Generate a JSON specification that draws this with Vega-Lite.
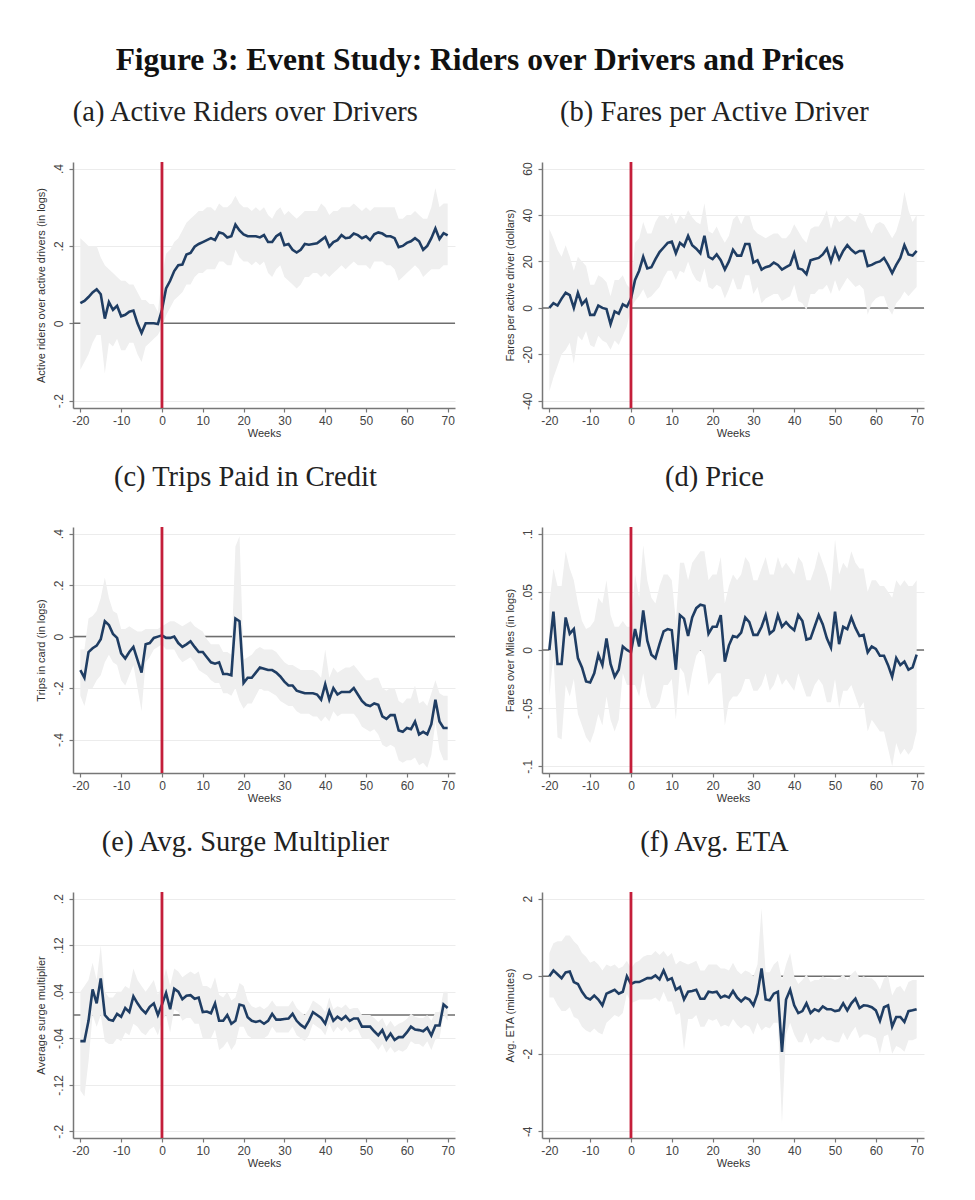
{
"$schema": "https://vega.github.io/schema/vega-lite/v6.json",
"padding": {"left": 34, "top": 44, "right": 5, "bottom": 5},
"background": "white",
"title": {"text": "Figure 3: Event Study: Riders over Drivers and Prices", "font": "Liberation Serif", "fontSize": 31.5, "fontWeight": "bold", "anchor": "middle", "color": "#111", "offset": 22},
"config": {
  "view": {"stroke": null},
  "title": {"font": "Liberation Serif", "fontSize": 28.5, "fontWeight": "normal", "color": "#222", "anchor": "middle", "offset": 34, "frame": "bounds"},
  "axis": {"labelFont": "Liberation Sans", "titleFont": "Liberation Sans", "labelFontSize": 12, "titleFontSize": 11, "titleFontWeight": "normal", "labelColor": "#444", "titleColor": "#333", "domainColor": "#777", "domainWidth": 1.5, "tickColor": "#777", "tickWidth": 1.2, "tickSize": 4, "labelPadding": 3},
  "axisX": {"grid": false, "titlePadding": 1},
  "axisY": {"grid": true, "gridColor": "#ececec", "gridWidth": 1, "labelAngle": 270, "titlePadding": 6, "labelPadding": 4}
},
"spacing": {"row": 25, "column": 48},
"columns": 2,
"datasets": {
"a": [
{"w":-20,"y":0.052,"lo":-0.12,"hi":0.22},{"w":-19,"y":0.058,"lo":-0.10,"hi":0.21},{"w":-18,"y":0.068,"lo":-0.08,"hi":0.20},{"w":-17,"y":0.080,"lo":-0.05,"hi":0.20},{"w":-16,"y":0.088,"lo":-0.03,"hi":0.20},{"w":-15,"y":0.075,"lo":-0.03,"hi":0.17},{"w":-14,"y":0.012,"lo":-0.13,"hi":0.15},{"w":-13,"y":0.055,"lo":-0.05,"hi":0.14},{"w":-12,"y":0.035,"lo":-0.06,"hi":0.13},{"w":-11,"y":0.045,"lo":-0.04,"hi":0.12},
{"w":-10,"y":0.018,"lo":-0.07,"hi":0.11},{"w":-9,"y":0.022,"lo":-0.07,"hi":0.11},{"w":-8,"y":0.030,"lo":-0.05,"hi":0.10},{"w":-7,"y":0.033,"lo":-0.05,"hi":0.10},{"w":-6,"y":0.000,"lo":-0.08,"hi":0.08},{"w":-5,"y":-0.025,"lo":-0.10,"hi":0.06},{"w":-4,"y":0.000,"lo":-0.06,"hi":0.06},{"w":-3,"y":0.000,"lo":-0.05,"hi":0.05},{"w":-2,"y":0.000,"lo":-0.04,"hi":0.05},{"w":-1,"y":-0.002,"lo":-0.03,"hi":0.03},
{"w":0,"y":0.035,"lo":-0.01,"hi":0.12},{"w":1,"y":0.090,"lo":0.02,"hi":0.18},{"w":2,"y":0.110,"lo":0.04,"hi":0.19},{"w":3,"y":0.135,"lo":0.06,"hi":0.21},{"w":4,"y":0.150,"lo":0.07,"hi":0.22},{"w":5,"y":0.152,"lo":0.08,"hi":0.24},{"w":6,"y":0.178,"lo":0.10,"hi":0.26},{"w":7,"y":0.182,"lo":0.10,"hi":0.27},{"w":8,"y":0.198,"lo":0.12,"hi":0.28},{"w":9,"y":0.205,"lo":0.13,"hi":0.29},
{"w":10,"y":0.210,"lo":0.13,"hi":0.29},{"w":11,"y":0.215,"lo":0.14,"hi":0.30},{"w":12,"y":0.220,"lo":0.14,"hi":0.30},{"w":13,"y":0.215,"lo":0.14,"hi":0.29},{"w":14,"y":0.235,"lo":0.16,"hi":0.31},{"w":15,"y":0.232,"lo":0.16,"hi":0.30},{"w":16,"y":0.222,"lo":0.15,"hi":0.30},{"w":17,"y":0.225,"lo":0.15,"hi":0.31},{"w":18,"y":0.255,"lo":0.19,"hi":0.33},{"w":19,"y":0.240,"lo":0.17,"hi":0.31},
{"w":20,"y":0.230,"lo":0.16,"hi":0.30},{"w":21,"y":0.225,"lo":0.16,"hi":0.30},{"w":22,"y":0.225,"lo":0.15,"hi":0.29},{"w":23,"y":0.225,"lo":0.16,"hi":0.30},{"w":24,"y":0.222,"lo":0.15,"hi":0.29},{"w":25,"y":0.228,"lo":0.16,"hi":0.30},{"w":26,"y":0.210,"lo":0.13,"hi":0.28},{"w":27,"y":0.210,"lo":0.12,"hi":0.27},{"w":28,"y":0.225,"lo":0.14,"hi":0.29},{"w":29,"y":0.232,"lo":0.15,"hi":0.30},
{"w":30,"y":0.202,"lo":0.12,"hi":0.28},{"w":31,"y":0.205,"lo":0.11,"hi":0.29},{"w":32,"y":0.190,"lo":0.10,"hi":0.28},{"w":33,"y":0.183,"lo":0.09,"hi":0.27},{"w":34,"y":0.190,"lo":0.10,"hi":0.28},{"w":35,"y":0.205,"lo":0.12,"hi":0.29},{"w":36,"y":0.203,"lo":0.12,"hi":0.29},{"w":37,"y":0.205,"lo":0.13,"hi":0.29},{"w":38,"y":0.207,"lo":0.13,"hi":0.29},{"w":39,"y":0.215,"lo":0.12,"hi":0.31},
{"w":40,"y":0.223,"lo":0.13,"hi":0.30},{"w":41,"y":0.198,"lo":0.12,"hi":0.28},{"w":42,"y":0.210,"lo":0.13,"hi":0.29},{"w":43,"y":0.215,"lo":0.14,"hi":0.29},{"w":44,"y":0.228,"lo":0.15,"hi":0.30},{"w":45,"y":0.220,"lo":0.14,"hi":0.30},{"w":46,"y":0.222,"lo":0.15,"hi":0.30},{"w":47,"y":0.232,"lo":0.16,"hi":0.31},{"w":48,"y":0.228,"lo":0.15,"hi":0.30},{"w":49,"y":0.220,"lo":0.15,"hi":0.29},
{"w":50,"y":0.225,"lo":0.15,"hi":0.30},{"w":51,"y":0.215,"lo":0.14,"hi":0.29},{"w":52,"y":0.230,"lo":0.16,"hi":0.30},{"w":53,"y":0.235,"lo":0.16,"hi":0.30},{"w":54,"y":0.232,"lo":0.16,"hi":0.30},{"w":55,"y":0.225,"lo":0.15,"hi":0.30},{"w":56,"y":0.225,"lo":0.15,"hi":0.30},{"w":57,"y":0.220,"lo":0.14,"hi":0.30},{"w":58,"y":0.197,"lo":0.11,"hi":0.27},{"w":59,"y":0.200,"lo":0.12,"hi":0.27},
{"w":60,"y":0.208,"lo":0.13,"hi":0.28},{"w":61,"y":0.212,"lo":0.14,"hi":0.28},{"w":62,"y":0.220,"lo":0.15,"hi":0.29},{"w":63,"y":0.212,"lo":0.14,"hi":0.28},{"w":64,"y":0.190,"lo":0.12,"hi":0.27},{"w":65,"y":0.200,"lo":0.13,"hi":0.27},{"w":66,"y":0.220,"lo":0.14,"hi":0.30},{"w":67,"y":0.245,"lo":0.14,"hi":0.35},{"w":68,"y":0.218,"lo":0.14,"hi":0.30},{"w":69,"y":0.233,"lo":0.15,"hi":0.31},{"w":70,"y":0.227,"lo":0.15,"hi":0.31}
],
"b": [
{"w":-20,"y":0,"lo":-36,"hi":34},{"w":-19,"y":2,"lo":-30,"hi":30},{"w":-18,"y":1,"lo":-25,"hi":25},{"w":-17,"y":4,"lo":-20,"hi":22},{"w":-16,"y":6.5,"lo":-18,"hi":27},{"w":-15,"y":5.5,"lo":-15,"hi":22},{"w":-14,"y":0,"lo":-24,"hi":16},{"w":-13,"y":6.5,"lo":-12,"hi":22},{"w":-12,"y":1.5,"lo":-14,"hi":20},{"w":-11,"y":3.5,"lo":-10,"hi":18},
{"w":-10,"y":-3,"lo":-16,"hi":10},{"w":-9,"y":-3,"lo":-17,"hi":10},{"w":-8,"y":1,"lo":-12,"hi":14},{"w":-7,"y":0,"lo":-14,"hi":13},{"w":-6,"y":-0.5,"lo":-15,"hi":11},{"w":-5,"y":-7,"lo":-18,"hi":5},{"w":-4,"y":-1.5,"lo":-14,"hi":12},{"w":-3,"y":-2.5,"lo":-16,"hi":12},{"w":-2,"y":1.5,"lo":-12,"hi":14},{"w":-1,"y":0.5,"lo":-8,"hi":10},
{"w":0,"y":4,"lo":0,"hi":8},{"w":1,"y":12,"lo":3,"hi":28},{"w":2,"y":16,"lo":5,"hi":30},{"w":3,"y":22,"lo":8,"hi":37},{"w":4,"y":17,"lo":4,"hi":32},{"w":5,"y":17.5,"lo":5,"hi":32},{"w":6,"y":21,"lo":7,"hi":37},{"w":7,"y":24,"lo":9,"hi":40},{"w":8,"y":26,"lo":13,"hi":40},{"w":9,"y":28,"lo":16,"hi":38},
{"w":10,"y":28.5,"lo":16,"hi":41},{"w":11,"y":23.5,"lo":12,"hi":36},{"w":12,"y":28,"lo":16,"hi":40},{"w":13,"y":26.5,"lo":15,"hi":38},{"w":14,"y":31,"lo":20,"hi":42},{"w":15,"y":27,"lo":15,"hi":39},{"w":16,"y":25.5,"lo":12,"hi":37},{"w":17,"y":23.5,"lo":11,"hi":36},{"w":18,"y":31,"lo":17,"hi":45},{"w":19,"y":22,"lo":9,"hi":33},
{"w":20,"y":21,"lo":8,"hi":32},{"w":21,"y":23,"lo":10,"hi":35},{"w":22,"y":20.5,"lo":9,"hi":31},{"w":23,"y":16.5,"lo":4,"hi":28},{"w":24,"y":20,"lo":8,"hi":31},{"w":25,"y":25,"lo":13,"hi":38},{"w":26,"y":22.5,"lo":8,"hi":40},{"w":27,"y":22.5,"lo":8,"hi":36},{"w":28,"y":27.5,"lo":14,"hi":40},{"w":29,"y":27.5,"lo":14,"hi":40},
{"w":30,"y":19.5,"lo":6,"hi":34},{"w":31,"y":20.5,"lo":9,"hi":32},{"w":32,"y":16.5,"lo":2,"hi":31},{"w":33,"y":17.5,"lo":4,"hi":30},{"w":34,"y":18,"lo":5,"hi":31},{"w":35,"y":19.5,"lo":6,"hi":32},{"w":36,"y":18.5,"lo":6,"hi":32},{"w":37,"y":16.5,"lo":3,"hi":30},{"w":38,"y":17.5,"lo":4,"hi":30},{"w":39,"y":18.5,"lo":5,"hi":32},
{"w":40,"y":23.5,"lo":10,"hi":36},{"w":41,"y":17,"lo":3,"hi":33},{"w":42,"y":16.5,"lo":2,"hi":30},{"w":43,"y":14.5,"lo":-1,"hi":28},{"w":44,"y":20.5,"lo":6,"hi":34},{"w":45,"y":21,"lo":6,"hi":35},{"w":46,"y":21.5,"lo":8,"hi":35},{"w":47,"y":23,"lo":8,"hi":38},{"w":48,"y":25.5,"lo":10,"hi":42},{"w":49,"y":20,"lo":6,"hi":34},
{"w":50,"y":25.5,"lo":12,"hi":40},{"w":51,"y":21,"lo":7,"hi":37},{"w":52,"y":24.5,"lo":10,"hi":38},{"w":53,"y":27,"lo":13,"hi":40},{"w":54,"y":25,"lo":11,"hi":38},{"w":55,"y":23.5,"lo":9,"hi":37},{"w":56,"y":24.5,"lo":10,"hi":41},{"w":57,"y":24.5,"lo":8,"hi":40},{"w":58,"y":18,"lo":-3,"hi":35},{"w":59,"y":18.5,"lo":2,"hi":32},
{"w":60,"y":19.5,"lo":4,"hi":36},{"w":61,"y":20,"lo":5,"hi":37},{"w":62,"y":21.5,"lo":5,"hi":36},{"w":63,"y":18.5,"lo":0,"hi":33},{"w":64,"y":15,"lo":-3,"hi":30},{"w":65,"y":18.5,"lo":2,"hi":33},{"w":66,"y":21.5,"lo":4,"hi":39},{"w":67,"y":27,"lo":7,"hi":50},{"w":68,"y":23,"lo":5,"hi":42},{"w":69,"y":22.5,"lo":7,"hi":37},{"w":70,"y":24.5,"lo":9,"hi":40}
],
"c": [
{"w":-20,"y":-0.13,"lo":-0.23,"hi":-0.05},{"w":-19,"y":-0.16,"lo":-0.27,"hi":-0.05},{"w":-18,"y":-0.06,"lo":-0.20,"hi":0.07},{"w":-17,"y":-0.045,"lo":-0.20,"hi":0.08},{"w":-16,"y":-0.035,"lo":-0.17,"hi":0.10},{"w":-15,"y":-0.01,"lo":-0.15,"hi":0.15},{"w":-14,"y":0.06,"lo":-0.10,"hi":0.23},{"w":-13,"y":0.045,"lo":-0.07,"hi":0.15},{"w":-12,"y":0.01,"lo":-0.10,"hi":0.10},{"w":-11,"y":-0.005,"lo":-0.11,"hi":0.09},
{"w":-10,"y":-0.065,"lo":-0.17,"hi":0.03},{"w":-9,"y":-0.085,"lo":-0.19,"hi":0.03},{"w":-8,"y":-0.06,"lo":-0.15,"hi":0.04},{"w":-7,"y":-0.04,"lo":-0.11,"hi":0.03},{"w":-6,"y":-0.09,"lo":-0.20,"hi":0.02},{"w":-5,"y":-0.14,"lo":-0.29,"hi":0.02},{"w":-4,"y":-0.03,"lo":-0.10,"hi":0.03},{"w":-3,"y":-0.025,"lo":-0.08,"hi":0.03},{"w":-2,"y":-0.005,"lo":-0.05,"hi":0.03},{"w":-1,"y":0.0,"lo":-0.04,"hi":0.03},
{"w":0,"y":0.005,"lo":-0.03,"hi":0.04},{"w":1,"y":-0.005,"lo":-0.05,"hi":0.05},{"w":2,"y":-0.005,"lo":-0.05,"hi":0.06},{"w":3,"y":0.0,"lo":-0.05,"hi":0.06},{"w":4,"y":-0.025,"lo":-0.08,"hi":0.05},{"w":5,"y":-0.04,"lo":-0.10,"hi":0.04},{"w":6,"y":-0.03,"lo":-0.09,"hi":0.05},{"w":7,"y":-0.018,"lo":-0.08,"hi":0.06},{"w":8,"y":-0.04,"lo":-0.10,"hi":0.04},{"w":9,"y":-0.06,"lo":-0.13,"hi":0.03},
{"w":10,"y":-0.06,"lo":-0.14,"hi":0.02},{"w":11,"y":-0.08,"lo":-0.15,"hi":-0.01},{"w":12,"y":-0.10,"lo":-0.17,"hi":-0.03},{"w":13,"y":-0.105,"lo":-0.18,"hi":-0.03},{"w":14,"y":-0.10,"lo":-0.18,"hi":-0.03},{"w":15,"y":-0.145,"lo":-0.22,"hi":-0.06},{"w":16,"y":-0.145,"lo":-0.22,"hi":-0.06},{"w":17,"y":-0.15,"lo":-0.23,"hi":-0.07},{"w":18,"y":0.07,"lo":-0.20,"hi":0.35},{"w":19,"y":0.06,"lo":-0.25,"hi":0.39},
{"w":20,"y":-0.18,"lo":-0.28,"hi":-0.09},{"w":21,"y":-0.16,"lo":-0.26,"hi":-0.08},{"w":22,"y":-0.16,"lo":-0.26,"hi":-0.07},{"w":23,"y":-0.14,"lo":-0.23,"hi":-0.05},{"w":24,"y":-0.12,"lo":-0.20,"hi":-0.04},{"w":25,"y":-0.125,"lo":-0.21,"hi":-0.05},{"w":26,"y":-0.13,"lo":-0.21,"hi":-0.05},{"w":27,"y":-0.13,"lo":-0.22,"hi":-0.05},{"w":28,"y":-0.14,"lo":-0.23,"hi":-0.06},{"w":29,"y":-0.155,"lo":-0.25,"hi":-0.08},
{"w":30,"y":-0.175,"lo":-0.26,"hi":-0.10},{"w":31,"y":-0.19,"lo":-0.27,"hi":-0.11},{"w":32,"y":-0.19,"lo":-0.27,"hi":-0.11},{"w":33,"y":-0.21,"lo":-0.29,"hi":-0.12},{"w":34,"y":-0.215,"lo":-0.30,"hi":-0.13},{"w":35,"y":-0.22,"lo":-0.30,"hi":-0.13},{"w":36,"y":-0.22,"lo":-0.30,"hi":-0.13},{"w":37,"y":-0.22,"lo":-0.31,"hi":-0.13},{"w":38,"y":-0.225,"lo":-0.31,"hi":-0.14},{"w":39,"y":-0.245,"lo":-0.33,"hi":-0.16},
{"w":40,"y":-0.185,"lo":-0.31,"hi":-0.05},{"w":41,"y":-0.245,"lo":-0.33,"hi":-0.16},{"w":42,"y":-0.20,"lo":-0.29,"hi":-0.12},{"w":43,"y":-0.225,"lo":-0.31,"hi":-0.14},{"w":44,"y":-0.215,"lo":-0.30,"hi":-0.13},{"w":45,"y":-0.215,"lo":-0.30,"hi":-0.12},{"w":46,"y":-0.215,"lo":-0.30,"hi":-0.12},{"w":47,"y":-0.20,"lo":-0.30,"hi":-0.11},{"w":48,"y":-0.225,"lo":-0.32,"hi":-0.13},{"w":49,"y":-0.25,"lo":-0.35,"hi":-0.15},
{"w":50,"y":-0.265,"lo":-0.36,"hi":-0.17},{"w":51,"y":-0.27,"lo":-0.37,"hi":-0.17},{"w":52,"y":-0.26,"lo":-0.36,"hi":-0.16},{"w":53,"y":-0.265,"lo":-0.38,"hi":-0.16},{"w":54,"y":-0.31,"lo":-0.42,"hi":-0.20},{"w":55,"y":-0.32,"lo":-0.43,"hi":-0.21},{"w":56,"y":-0.305,"lo":-0.42,"hi":-0.20},{"w":57,"y":-0.305,"lo":-0.43,"hi":-0.20},{"w":58,"y":-0.365,"lo":-0.48,"hi":-0.25},{"w":59,"y":-0.37,"lo":-0.49,"hi":-0.26},
{"w":60,"y":-0.355,"lo":-0.48,"hi":-0.24},{"w":61,"y":-0.36,"lo":-0.48,"hi":-0.24},{"w":62,"y":-0.33,"lo":-0.47,"hi":-0.19},{"w":63,"y":-0.38,"lo":-0.50,"hi":-0.26},{"w":64,"y":-0.37,"lo":-0.49,"hi":-0.25},{"w":65,"y":-0.38,"lo":-0.51,"hi":-0.27},{"w":66,"y":-0.34,"lo":-0.46,"hi":-0.22},{"w":67,"y":-0.245,"lo":-0.33,"hi":-0.17},{"w":68,"y":-0.33,"lo":-0.44,"hi":-0.22},{"w":69,"y":-0.355,"lo":-0.48,"hi":-0.23},{"w":70,"y":-0.355,"lo":-0.48,"hi":-0.23}
],
"d": [
{"w":-20,"y":0.0,"lo":-0.04,"hi":0.04},{"w":-19,"y":0.033,"lo":-0.005,"hi":0.07},{"w":-18,"y":-0.012,"lo":-0.075,"hi":0.055},{"w":-17,"y":-0.012,"lo":-0.077,"hi":0.055},{"w":-16,"y":0.028,"lo":-0.03,"hi":0.085},{"w":-15,"y":0.014,"lo":-0.04,"hi":0.07},{"w":-14,"y":0.018,"lo":-0.025,"hi":0.06},{"w":-13,"y":-0.007,"lo":-0.055,"hi":0.04},{"w":-12,"y":-0.015,"lo":-0.065,"hi":0.025},{"w":-11,"y":-0.027,"lo":-0.075,"hi":0.018},
{"w":-10,"y":-0.028,"lo":-0.08,"hi":0.02},{"w":-9,"y":-0.02,"lo":-0.07,"hi":0.025},{"w":-8,"y":-0.004,"lo":-0.055,"hi":0.045},{"w":-7,"y":-0.013,"lo":-0.065,"hi":0.04},{"w":-6,"y":0.01,"lo":-0.04,"hi":0.06},{"w":-5,"y":-0.012,"lo":-0.06,"hi":0.03},{"w":-4,"y":-0.023,"lo":-0.07,"hi":0.02},{"w":-3,"y":-0.017,"lo":-0.06,"hi":0.02},{"w":-2,"y":0.003,"lo":-0.02,"hi":0.025},{"w":-1,"y":0.0,"lo":-0.03,"hi":0.02},
{"w":0,"y":-0.002,"lo":-0.03,"hi":0.02},{"w":1,"y":0.018,"lo":-0.03,"hi":0.065},{"w":2,"y":0.003,"lo":-0.04,"hi":0.045},{"w":3,"y":0.034,"lo":-0.02,"hi":0.09},{"w":4,"y":0.008,"lo":-0.04,"hi":0.06},{"w":5,"y":-0.004,"lo":-0.05,"hi":0.045},{"w":6,"y":-0.007,"lo":-0.05,"hi":0.04},{"w":7,"y":0.005,"lo":-0.045,"hi":0.055},{"w":8,"y":0.016,"lo":-0.03,"hi":0.065},{"w":9,"y":0.018,"lo":-0.03,"hi":0.065},
{"w":10,"y":0.017,"lo":-0.025,"hi":0.06},{"w":11,"y":-0.017,"lo":-0.06,"hi":0.025},{"w":12,"y":0.03,"lo":-0.015,"hi":0.075},{"w":13,"y":0.027,"lo":-0.02,"hi":0.075},{"w":14,"y":0.012,"lo":-0.04,"hi":0.06},{"w":15,"y":0.028,"lo":-0.02,"hi":0.075},{"w":16,"y":0.036,"lo":-0.005,"hi":0.08},{"w":17,"y":0.039,"lo":0.0,"hi":0.085},{"w":18,"y":0.038,"lo":-0.005,"hi":0.085},{"w":19,"y":0.014,"lo":-0.03,"hi":0.06},
{"w":20,"y":0.02,"lo":-0.025,"hi":0.065},{"w":21,"y":0.02,"lo":-0.02,"hi":0.065},{"w":22,"y":0.03,"lo":-0.02,"hi":0.08},{"w":23,"y":-0.01,"lo":-0.065,"hi":0.04},{"w":24,"y":0.004,"lo":-0.045,"hi":0.055},{"w":25,"y":0.012,"lo":-0.04,"hi":0.065},{"w":26,"y":0.011,"lo":-0.04,"hi":0.06},{"w":27,"y":0.015,"lo":-0.035,"hi":0.065},{"w":28,"y":0.028,"lo":-0.025,"hi":0.08},{"w":29,"y":0.024,"lo":-0.025,"hi":0.075},
{"w":30,"y":0.013,"lo":-0.035,"hi":0.06},{"w":31,"y":0.013,"lo":-0.035,"hi":0.06},{"w":32,"y":0.02,"lo":-0.03,"hi":0.07},{"w":33,"y":0.03,"lo":-0.02,"hi":0.08},{"w":34,"y":0.014,"lo":-0.035,"hi":0.065},{"w":35,"y":0.017,"lo":-0.03,"hi":0.065},{"w":36,"y":0.03,"lo":-0.02,"hi":0.08},{"w":37,"y":0.02,"lo":-0.03,"hi":0.07},{"w":38,"y":0.024,"lo":-0.025,"hi":0.075},{"w":39,"y":0.02,"lo":-0.03,"hi":0.07},
{"w":40,"y":0.017,"lo":-0.035,"hi":0.065},{"w":41,"y":0.03,"lo":-0.02,"hi":0.08},{"w":42,"y":0.025,"lo":-0.03,"hi":0.075},{"w":43,"y":0.009,"lo":-0.04,"hi":0.06},{"w":44,"y":0.01,"lo":-0.04,"hi":0.06},{"w":45,"y":0.02,"lo":-0.03,"hi":0.07},{"w":46,"y":0.03,"lo":-0.025,"hi":0.085},{"w":47,"y":0.022,"lo":-0.03,"hi":0.075},{"w":48,"y":0.01,"lo":-0.045,"hi":0.065},{"w":49,"y":0.002,"lo":-0.045,"hi":0.05},
{"w":50,"y":0.033,"lo":-0.025,"hi":0.095},{"w":51,"y":0.005,"lo":-0.05,"hi":0.065},{"w":52,"y":0.02,"lo":-0.035,"hi":0.075},{"w":53,"y":0.018,"lo":-0.035,"hi":0.07},{"w":54,"y":0.028,"lo":-0.03,"hi":0.085},{"w":55,"y":0.019,"lo":-0.04,"hi":0.075},{"w":56,"y":0.012,"lo":-0.05,"hi":0.07},{"w":57,"y":0.013,"lo":-0.045,"hi":0.07},{"w":58,"y":-0.002,"lo":-0.07,"hi":0.05},{"w":59,"y":0.003,"lo":-0.06,"hi":0.06},
{"w":60,"y":0.001,"lo":-0.065,"hi":0.06},{"w":61,"y":-0.005,"lo":-0.07,"hi":0.055},{"w":62,"y":-0.005,"lo":-0.07,"hi":0.055},{"w":63,"y":-0.013,"lo":-0.085,"hi":0.05},{"w":64,"y":-0.023,"lo":-0.1,"hi":0.045},{"w":65,"y":-0.007,"lo":-0.08,"hi":0.06},{"w":66,"y":-0.013,"lo":-0.09,"hi":0.055},{"w":67,"y":-0.01,"lo":-0.085,"hi":0.06},{"w":68,"y":-0.017,"lo":-0.09,"hi":0.055},{"w":69,"y":-0.015,"lo":-0.085,"hi":0.055},{"w":70,"y":-0.004,"lo":-0.07,"hi":0.06}
],
"e": [
{"w":-20,"y":-0.045,"lo":-0.13,"hi":0.04},{"w":-19,"y":-0.045,"lo":-0.14,"hi":0.05},{"w":-18,"y":-0.01,"lo":-0.08,"hi":0.06},{"w":-17,"y":0.044,"lo":0.0,"hi":0.09},{"w":-16,"y":0.02,"lo":-0.02,"hi":0.06},{"w":-15,"y":0.063,"lo":0.0,"hi":0.12},{"w":-14,"y":0.0,"lo":-0.045,"hi":0.04},{"w":-13,"y":-0.008,"lo":-0.05,"hi":0.03},{"w":-12,"y":-0.01,"lo":-0.05,"hi":0.03},{"w":-11,"y":0.002,"lo":-0.04,"hi":0.04},
{"w":-10,"y":-0.003,"lo":-0.045,"hi":0.04},{"w":-9,"y":0.012,"lo":-0.03,"hi":0.05},{"w":-8,"y":0.005,"lo":-0.035,"hi":0.045},{"w":-7,"y":0.032,"lo":-0.015,"hi":0.08},{"w":-6,"y":0.02,"lo":-0.02,"hi":0.06},{"w":-5,"y":0.01,"lo":-0.03,"hi":0.05},{"w":-4,"y":0.003,"lo":-0.035,"hi":0.04},{"w":-3,"y":0.014,"lo":-0.025,"hi":0.05},{"w":-2,"y":0.02,"lo":-0.02,"hi":0.06},{"w":-1,"y":0.0,"lo":-0.035,"hi":0.035},
{"w":0,"y":0.018,"lo":-0.01,"hi":0.05},{"w":1,"y":0.038,"lo":0.0,"hi":0.08},{"w":2,"y":0.01,"lo":-0.03,"hi":0.05},{"w":3,"y":0.045,"lo":0.01,"hi":0.08},{"w":4,"y":0.04,"lo":0.005,"hi":0.075},{"w":5,"y":0.027,"lo":-0.01,"hi":0.065},{"w":6,"y":0.033,"lo":-0.005,"hi":0.07},{"w":7,"y":0.034,"lo":-0.005,"hi":0.075},{"w":8,"y":0.028,"lo":-0.015,"hi":0.07},{"w":9,"y":0.03,"lo":-0.015,"hi":0.075},
{"w":10,"y":0.005,"lo":-0.04,"hi":0.05},{"w":11,"y":0.006,"lo":-0.04,"hi":0.05},{"w":12,"y":0.003,"lo":-0.04,"hi":0.045},{"w":13,"y":0.02,"lo":-0.025,"hi":0.065},{"w":14,"y":-0.01,"lo":-0.06,"hi":0.035},{"w":15,"y":-0.01,"lo":-0.055,"hi":0.03},{"w":16,"y":0.0,"lo":-0.045,"hi":0.04},{"w":17,"y":-0.015,"lo":-0.06,"hi":0.025},{"w":18,"y":-0.01,"lo":-0.05,"hi":0.03},{"w":19,"y":0.018,"lo":-0.02,"hi":0.055},
{"w":20,"y":0.016,"lo":-0.02,"hi":0.05},{"w":21,"y":-0.004,"lo":-0.035,"hi":0.025},{"w":22,"y":-0.01,"lo":-0.04,"hi":0.015},{"w":23,"y":-0.012,"lo":-0.04,"hi":0.012},{"w":24,"y":-0.01,"lo":-0.04,"hi":0.015},{"w":25,"y":-0.015,"lo":-0.04,"hi":0.01},{"w":26,"y":-0.01,"lo":-0.035,"hi":0.015},{"w":27,"y":0.002,"lo":-0.02,"hi":0.025},{"w":28,"y":-0.008,"lo":-0.03,"hi":0.015},{"w":29,"y":-0.008,"lo":-0.03,"hi":0.015},
{"w":30,"y":-0.007,"lo":-0.03,"hi":0.015},{"w":31,"y":-0.006,"lo":-0.03,"hi":0.015},{"w":32,"y":0.002,"lo":-0.02,"hi":0.025},{"w":33,"y":-0.01,"lo":-0.035,"hi":0.012},{"w":34,"y":-0.017,"lo":-0.04,"hi":0.005},{"w":35,"y":-0.022,"lo":-0.045,"hi":0.0},{"w":36,"y":-0.01,"lo":-0.035,"hi":0.01},{"w":37,"y":0.005,"lo":-0.015,"hi":0.025},{"w":38,"y":0.0,"lo":-0.02,"hi":0.02},{"w":39,"y":-0.005,"lo":-0.025,"hi":0.015},
{"w":40,"y":-0.015,"lo":-0.035,"hi":0.005},{"w":41,"y":0.007,"lo":-0.015,"hi":0.03},{"w":42,"y":-0.01,"lo":-0.03,"hi":0.01},{"w":43,"y":-0.003,"lo":-0.02,"hi":0.015},{"w":44,"y":-0.008,"lo":-0.028,"hi":0.012},{"w":45,"y":-0.002,"lo":-0.02,"hi":0.018},{"w":46,"y":-0.01,"lo":-0.03,"hi":0.01},{"w":47,"y":-0.006,"lo":-0.025,"hi":0.012},{"w":48,"y":-0.006,"lo":-0.025,"hi":0.012},{"w":49,"y":-0.02,"lo":-0.04,"hi":0.0},
{"w":50,"y":-0.02,"lo":-0.04,"hi":0.0},{"w":51,"y":-0.02,"lo":-0.042,"hi":0.0},{"w":52,"y":-0.028,"lo":-0.05,"hi":-0.005},{"w":53,"y":-0.035,"lo":-0.06,"hi":-0.012},{"w":54,"y":-0.026,"lo":-0.05,"hi":-0.005},{"w":55,"y":-0.042,"lo":-0.065,"hi":-0.02},{"w":56,"y":-0.032,"lo":-0.055,"hi":-0.01},{"w":57,"y":-0.043,"lo":-0.065,"hi":-0.02},{"w":58,"y":-0.038,"lo":-0.06,"hi":-0.015},{"w":59,"y":-0.038,"lo":-0.063,"hi":-0.012},
{"w":60,"y":-0.03,"lo":-0.058,"hi":-0.007},{"w":61,"y":-0.02,"lo":-0.045,"hi":0.002},{"w":62,"y":-0.025,"lo":-0.05,"hi":-0.003},{"w":63,"y":-0.026,"lo":-0.05,"hi":-0.005},{"w":64,"y":-0.028,"lo":-0.055,"hi":-0.005},{"w":65,"y":-0.022,"lo":-0.045,"hi":0.0},{"w":66,"y":-0.035,"lo":-0.06,"hi":-0.01},{"w":67,"y":-0.018,"lo":-0.042,"hi":0.005},{"w":68,"y":-0.018,"lo":-0.04,"hi":0.005},{"w":69,"y":0.018,"lo":0.0,"hi":0.04},{"w":70,"y":0.012,"lo":-0.01,"hi":0.04}
],
"f": [
{"w":-20,"y":0.0,"lo":-0.55,"hi":0.6},{"w":-19,"y":0.15,"lo":-0.55,"hi":0.85},{"w":-18,"y":0.05,"lo":-0.75,"hi":0.9},{"w":-17,"y":-0.05,"lo":-0.9,"hi":0.9},{"w":-16,"y":0.1,"lo":-0.9,"hi":1.05},{"w":-15,"y":0.12,"lo":-0.8,"hi":1.05},{"w":-14,"y":-0.15,"lo":-1.05,"hi":0.9},{"w":-13,"y":-0.2,"lo":-1.1,"hi":0.8},{"w":-12,"y":-0.4,"lo":-1.3,"hi":0.6},{"w":-11,"y":-0.55,"lo":-1.4,"hi":0.5},
{"w":-10,"y":-0.6,"lo":-1.45,"hi":0.35},{"w":-9,"y":-0.5,"lo":-1.35,"hi":0.4},{"w":-8,"y":-0.6,"lo":-1.45,"hi":0.3},{"w":-7,"y":-0.75,"lo":-1.5,"hi":0.15},{"w":-6,"y":-0.45,"lo":-1.2,"hi":0.3},{"w":-5,"y":-0.4,"lo":-1.1,"hi":0.25},{"w":-4,"y":-0.35,"lo":-1.0,"hi":0.3},{"w":-3,"y":-0.45,"lo":-1.05,"hi":0.2},{"w":-2,"y":-0.4,"lo":-0.95,"hi":0.25},{"w":-1,"y":0.0,"lo":-0.45,"hi":0.4},
{"w":0,"y":-0.2,"lo":-0.7,"hi":0.2},{"w":1,"y":-0.15,"lo":-0.65,"hi":0.35},{"w":2,"y":-0.15,"lo":-0.6,"hi":0.4},{"w":3,"y":-0.1,"lo":-0.6,"hi":0.5},{"w":4,"y":-0.05,"lo":-0.6,"hi":0.55},{"w":5,"y":-0.05,"lo":-0.6,"hi":0.55},{"w":6,"y":0.02,"lo":-0.55,"hi":0.65},{"w":7,"y":-0.08,"lo":-0.65,"hi":0.55},{"w":8,"y":0.15,"lo":-0.4,"hi":0.65},{"w":9,"y":-0.1,"lo":-0.65,"hi":0.5},
{"w":10,"y":-0.05,"lo":-0.65,"hi":0.6},{"w":11,"y":-0.35,"lo":-1.0,"hi":0.3},{"w":12,"y":-0.28,"lo":-0.95,"hi":0.4},{"w":13,"y":-0.6,"lo":-1.9,"hi":0.35},{"w":14,"y":-0.4,"lo":-1.1,"hi":0.3},{"w":15,"y":-0.38,"lo":-1.1,"hi":0.35},{"w":16,"y":-0.35,"lo":-1.0,"hi":0.4},{"w":17,"y":-0.58,"lo":-1.3,"hi":0.15},{"w":18,"y":-0.58,"lo":-1.3,"hi":0.15},{"w":19,"y":-0.4,"lo":-1.1,"hi":0.3},
{"w":20,"y":-0.42,"lo":-1.15,"hi":0.3},{"w":21,"y":-0.4,"lo":-1.1,"hi":0.3},{"w":22,"y":-0.55,"lo":-1.3,"hi":0.2},{"w":23,"y":-0.5,"lo":-1.25,"hi":0.2},{"w":24,"y":-0.55,"lo":-1.3,"hi":0.15},{"w":25,"y":-0.38,"lo":-1.1,"hi":0.35},{"w":26,"y":-0.55,"lo":-1.25,"hi":0.15},{"w":27,"y":-0.65,"lo":-1.35,"hi":0.05},{"w":28,"y":-0.55,"lo":-1.25,"hi":0.15},{"w":29,"y":-0.6,"lo":-1.3,"hi":0.1},
{"w":30,"y":-0.75,"lo":-1.5,"hi":0.0},{"w":31,"y":-0.45,"lo":-1.2,"hi":0.3},{"w":32,"y":0.2,"lo":-1.4,"hi":1.75},{"w":33,"y":-0.6,"lo":-1.3,"hi":0.1},{"w":34,"y":-0.62,"lo":-1.35,"hi":0.1},{"w":35,"y":-0.45,"lo":-1.2,"hi":0.3},{"w":36,"y":-0.4,"lo":-1.2,"hi":0.4},{"w":37,"y":-1.95,"lo":-3.8,"hi":-0.1},{"w":38,"y":-0.6,"lo":-1.5,"hi":0.3},{"w":39,"y":-0.35,"lo":-1.2,"hi":0.6},
{"w":40,"y":-0.75,"lo":-1.5,"hi":0.0},{"w":41,"y":-0.95,"lo":-1.7,"hi":-0.2},{"w":42,"y":-0.9,"lo":-1.7,"hi":-0.1},{"w":43,"y":-0.7,"lo":-1.45,"hi":0.05},{"w":44,"y":-0.95,"lo":-1.75,"hi":-0.15},{"w":45,"y":-0.85,"lo":-1.6,"hi":-0.1},{"w":46,"y":-0.9,"lo":-1.65,"hi":-0.1},{"w":47,"y":-0.78,"lo":-1.55,"hi":0.0},{"w":48,"y":-0.85,"lo":-1.65,"hi":-0.05},{"w":49,"y":-0.85,"lo":-1.65,"hi":-0.05},
{"w":50,"y":-0.9,"lo":-1.7,"hi":-0.1},{"w":51,"y":-0.88,"lo":-1.7,"hi":-0.05},{"w":52,"y":-0.7,"lo":-1.45,"hi":0.05},{"w":53,"y":-0.88,"lo":-1.65,"hi":-0.1},{"w":54,"y":-0.7,"lo":-1.45,"hi":0.05},{"w":55,"y":-0.58,"lo":-1.3,"hi":0.15},{"w":56,"y":-0.82,"lo":-1.6,"hi":-0.05},{"w":57,"y":-0.75,"lo":-1.5,"hi":0.0},{"w":58,"y":-0.76,"lo":-1.5,"hi":-0.05},{"w":59,"y":-0.8,"lo":-1.55,"hi":-0.05},
{"w":60,"y":-0.88,"lo":-1.6,"hi":-0.15},{"w":61,"y":-1.15,"lo":-2.0,"hi":-0.35},{"w":62,"y":-0.8,"lo":-1.55,"hi":-0.05},{"w":63,"y":-0.75,"lo":-1.5,"hi":0.0},{"w":64,"y":-1.3,"lo":-2.0,"hi":-0.5},{"w":65,"y":-1.05,"lo":-1.8,"hi":-0.3},{"w":66,"y":-1.05,"lo":-1.85,"hi":-0.25},{"w":67,"y":-1.18,"lo":-1.95,"hi":-0.4},{"w":68,"y":-0.9,"lo":-1.65,"hi":-0.15},{"w":69,"y":-0.88,"lo":-1.65,"hi":-0.1},{"w":70,"y":-0.85,"lo":-1.6,"hi":-0.1}
]
},
"concat": [
{"title": "(a) Active Riders over Drivers", "width": 382, "height": 246, "data": {"name": "a"},
 "layer": [
  {"data": {"values": [{}]}, "mark": {"type": "rule", "color": "#6e6e6e", "strokeWidth": 1.5}, "encoding": {"y": {"datum": 0, "type": "quantitative", "scale": {"domain": [-0.219, 0.417], "nice": false, "zero": false}}}},
  {"mark": {"type": "area", "color": "#efefef"}, "encoding": {
    "x": {"field": "w", "type": "quantitative", "scale": {"domain": [-21.8, 71.8], "nice": false, "zero": false}, "axis": {"values": [-20,-10,0,10,20,30,40,50,60,70], "labelExpr": "replace(format(datum.value, 'd'), '\u2212', '-')", "title": "Weeks"}},
    "y": {"field": "lo", "type": "quantitative", "scale": {"domain": [-0.219, 0.417], "nice": false, "zero": false}, "axis": {"values": [-0.2,0,0.2,0.4], "labelExpr": "replace(replace(format(datum.value, '~g'), '0.', '.'), '\u2212', '-')", "title": "Active riders over active drivers (in logs)"}},
    "y2": {"field": "hi"}}},
  {"mark": {"type": "line", "color": "#1f3d63", "strokeWidth": 2.6}, "encoding": {"x": {"field": "w", "type": "quantitative"}, "y": {"field": "y", "type": "quantitative"}}},
  {"data": {"values": [{}]}, "mark": {"type": "rule", "color": "#c41e3a", "strokeWidth": 2.8}, "encoding": {"x": {"datum": 0, "type": "quantitative"}}}
 ]},
{"title": "(b) Fares per Active Driver", "width": 382, "height": 246, "data": {"name": "b"},
 "layer": [
  {"data": {"values": [{}]}, "mark": {"type": "rule", "color": "#6e6e6e", "strokeWidth": 1.5}, "encoding": {"y": {"datum": 0, "type": "quantitative", "scale": {"domain": [-43.1, 62.8], "nice": false, "zero": false}}}},
  {"mark": {"type": "area", "color": "#efefef"}, "encoding": {
    "x": {"field": "w", "type": "quantitative", "scale": {"domain": [-21.8, 71.8], "nice": false, "zero": false}, "axis": {"values": [-20,-10,0,10,20,30,40,50,60,70], "labelExpr": "replace(format(datum.value, 'd'), '\u2212', '-')", "title": "Weeks"}},
    "y": {"field": "lo", "type": "quantitative", "scale": {"domain": [-43.1, 62.8], "nice": false, "zero": false}, "axis": {"values": [-40,-20,0,20,40,60], "labelExpr": "replace(format(datum.value, 'd'), '\u2212', '-')", "title": "Fares per active driver (dollars)"}},
    "y2": {"field": "hi"}}},
  {"mark": {"type": "line", "color": "#1f3d63", "strokeWidth": 2.6}, "encoding": {"x": {"field": "w", "type": "quantitative"}, "y": {"field": "y", "type": "quantitative"}}},
  {"data": {"values": [{}]}, "mark": {"type": "rule", "color": "#c41e3a", "strokeWidth": 2.8}, "encoding": {"x": {"datum": 0, "type": "quantitative"}}}
 ]},
{"title": "(c) Trips Paid in Credit", "width": 382, "height": 246, "data": {"name": "c"},
 "layer": [
  {"data": {"values": [{}]}, "mark": {"type": "rule", "color": "#6e6e6e", "strokeWidth": 1.5}, "encoding": {"y": {"datum": 0, "type": "quantitative", "scale": {"domain": [-0.53, 0.426], "nice": false, "zero": false}}}},
  {"mark": {"type": "area", "color": "#efefef"}, "encoding": {
    "x": {"field": "w", "type": "quantitative", "scale": {"domain": [-21.8, 71.8], "nice": false, "zero": false}, "axis": {"values": [-20,-10,0,10,20,30,40,50,60,70], "labelExpr": "replace(format(datum.value, 'd'), '\u2212', '-')", "title": "Weeks"}},
    "y": {"field": "lo", "type": "quantitative", "scale": {"domain": [-0.53, 0.426], "nice": false, "zero": false}, "axis": {"values": [-0.4,-0.2,0,0.2,0.4], "labelExpr": "replace(replace(format(datum.value, '~g'), '0.', '.'), '\u2212', '-')", "title": "Trips in card (in logs)"}},
    "y2": {"field": "hi"}}},
  {"mark": {"type": "line", "color": "#1f3d63", "strokeWidth": 2.6}, "encoding": {"x": {"field": "w", "type": "quantitative"}, "y": {"field": "y", "type": "quantitative"}}},
  {"data": {"values": [{}]}, "mark": {"type": "rule", "color": "#c41e3a", "strokeWidth": 2.8}, "encoding": {"x": {"datum": 0, "type": "quantitative"}}}
 ]},
{"title": "(d) Price", "width": 382, "height": 246, "data": {"name": "d"},
 "layer": [
  {"data": {"values": [{}]}, "mark": {"type": "rule", "color": "#6e6e6e", "strokeWidth": 1.5}, "encoding": {"y": {"datum": 0, "type": "quantitative", "scale": {"domain": [-0.1058, 0.1058], "nice": false, "zero": false}}}},
  {"mark": {"type": "area", "color": "#efefef"}, "encoding": {
    "x": {"field": "w", "type": "quantitative", "scale": {"domain": [-21.8, 71.8], "nice": false, "zero": false}, "axis": {"values": [-20,-10,0,10,20,30,40,50,60,70], "labelExpr": "replace(format(datum.value, 'd'), '\u2212', '-')", "title": "Weeks"}},
    "y": {"field": "lo", "type": "quantitative", "scale": {"domain": [-0.1058, 0.1058], "nice": false, "zero": false}, "axis": {"values": [-0.1,-0.05,0,0.05,0.1], "labelExpr": "replace(replace(format(datum.value, '~g'), '0.', '.'), '\u2212', '-')", "title": "Fares over Miles (in logs)"}},
    "y2": {"field": "hi"}}},
  {"mark": {"type": "line", "color": "#1f3d63", "strokeWidth": 2.6}, "encoding": {"x": {"field": "w", "type": "quantitative"}, "y": {"field": "y", "type": "quantitative"}}},
  {"data": {"values": [{}]}, "mark": {"type": "rule", "color": "#c41e3a", "strokeWidth": 2.8}, "encoding": {"x": {"datum": 0, "type": "quantitative"}}}
 ]},
{"title": "(e) Avg. Surge Multiplier", "width": 382, "height": 246, "data": {"name": "e"},
 "layer": [
  {"data": {"values": [{}]}, "mark": {"type": "rule", "color": "#6e6e6e", "strokeWidth": 1.5}, "encoding": {"y": {"datum": 0, "type": "quantitative", "scale": {"domain": [-0.2115, 0.2115], "nice": false, "zero": false}}}},
  {"mark": {"type": "area", "color": "#efefef"}, "encoding": {
    "x": {"field": "w", "type": "quantitative", "scale": {"domain": [-21.8, 71.8], "nice": false, "zero": false}, "axis": {"values": [-20,-10,0,10,20,30,40,50,60,70], "labelExpr": "replace(format(datum.value, 'd'), '\u2212', '-')", "title": "Weeks"}},
    "y": {"field": "lo", "type": "quantitative", "scale": {"domain": [-0.2115, 0.2115], "nice": false, "zero": false}, "axis": {"values": [-0.2,-0.12,-0.04,0.04,0.12,0.2], "labelExpr": "replace(replace(format(datum.value, '~g'), '0.', '.'), '\u2212', '-')", "title": "Average surge multiplier"}},
    "y2": {"field": "hi"}}},
  {"mark": {"type": "line", "color": "#1f3d63", "strokeWidth": 2.6}, "encoding": {"x": {"field": "w", "type": "quantitative"}, "y": {"field": "y", "type": "quantitative"}}},
  {"data": {"values": [{}]}, "mark": {"type": "rule", "color": "#c41e3a", "strokeWidth": 2.8}, "encoding": {"x": {"datum": 0, "type": "quantitative"}}}
 ]},
{"title": "(f) Avg. ETA", "width": 382, "height": 246, "data": {"name": "f"},
 "layer": [
  {"data": {"values": [{}]}, "mark": {"type": "rule", "color": "#6e6e6e", "strokeWidth": 1.5}, "encoding": {"y": {"datum": 0, "type": "quantitative", "scale": {"domain": [-4.173, 2.173], "nice": false, "zero": false}}}},
  {"mark": {"type": "area", "color": "#efefef"}, "encoding": {
    "x": {"field": "w", "type": "quantitative", "scale": {"domain": [-21.8, 71.8], "nice": false, "zero": false}, "axis": {"values": [-20,-10,0,10,20,30,40,50,60,70], "labelExpr": "replace(format(datum.value, 'd'), '\u2212', '-')", "title": "Weeks"}},
    "y": {"field": "lo", "type": "quantitative", "scale": {"domain": [-4.173, 2.173], "nice": false, "zero": false}, "axis": {"values": [-4,-2,0,2], "labelExpr": "replace(format(datum.value, 'd'), '\u2212', '-')", "title": "Avg. ETA (minutes)"}},
    "y2": {"field": "hi"}}},
  {"mark": {"type": "line", "color": "#1f3d63", "strokeWidth": 2.6}, "encoding": {"x": {"field": "w", "type": "quantitative"}, "y": {"field": "y", "type": "quantitative"}}},
  {"data": {"values": [{}]}, "mark": {"type": "rule", "color": "#c41e3a", "strokeWidth": 2.8}, "encoding": {"x": {"datum": 0, "type": "quantitative"}}}
 ]}
]
}
